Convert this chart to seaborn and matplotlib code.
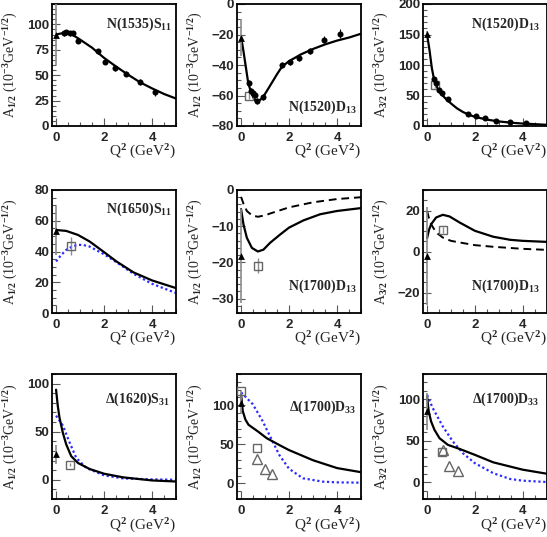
import matplotlib
matplotlib.use("Agg")
import matplotlib.pyplot as plt
import seaborn as sns
from matplotlib.ticker import MultipleLocator

# ==============================================================================
# data: helicity amplitudes vs Q^2
# ==============================================================================

# N(1535)S11 A1/2
p1_q2 = [0.32, 0.43, 0.57, 0.69, 0.92, 1.74, 2.06, 2.46, 2.92, 3.49, 4.14]
p1_a = [91, 92, 91, 91, 84, 73.5, 63, 57, 51.5, 43, 33]
p1_err = [2, 2, 2, 2, 2, 2.5, 2.5, 2.5, 2.5, 3, 3]
p1_pdg = [90, 30]
p1_cx = [0, 0.2, 0.4, 0.6, 0.8, 1.0, 1.5, 2.0, 2.5, 3.0, 3.5, 4.0, 4.5, 5.0]
p1_cy = [90, 91, 91.5, 91, 88, 85, 77, 67, 58.5, 50.5, 43, 37, 31.5, 27]

# N(1520)D13 A1/2
p2_q2 = [0.31, 0.42, 0.49, 0.56, 0.67, 0.9, 1.71, 2.04, 2.4, 2.89, 3.44, 4.11]
p2_a = [-51.7, -57, -58.5, -59.6, -63.8, -60.8, -40, -37.9, -35.7, -31, -23.4, -19.6]
p2_err = [2, 2, 2, 2, 2, 2, 2, 2, 2, 2, 2.5, 3]
p2_pdg = [-22, 12]
p2_sq = [0.35, -60.4, 2]
p2_cx = [0, 0.1, 0.2, 0.3, 0.4, 0.5, 0.6, 0.7, 0.9, 1.2, 1.5, 1.71, 2.0, 2.5, 3.0, 3.5, 4.0, 4.5, 5.0]
p2_cy = [-21.5, -31, -41.5, -52, -57, -61, -63.5, -64, -61.5, -53.8, -46, -41, -37.5, -33, -29.5, -26.5, -24, -22, -19.5]

# N(1520)D13 A3/2
p3_q2 = [0.28, 0.36, 0.48, 0.62, 0.88, 1.7, 2.05, 2.43, 2.9, 3.48, 4.15]
p3_a = [76.4, 70, 59.6, 54, 45, 19.5, 16.8, 12.5, 7.6, 6.5, 4.9]
p3_err = [3, 3, 3, 3, 3, 2, 2, 2, 2, 2, 2]
p3_pdg = [151, 5]
p3_sq = [0.32, 66.7, 4]
p3_cx = [0, 0.1, 0.2, 0.3, 0.4, 0.5, 0.6, 0.8, 1.0, 1.25, 1.5, 1.75, 2.0, 2.5, 3.0, 3.5, 4.0, 4.5, 5.0]
p3_cy = [150, 125, 95, 75, 65, 57, 52, 44, 37, 29, 23, 18.5, 15, 10.5, 7.5, 5.5, 4, 3, 2]

# N(1650)S11 A1/2
p4_pdg = [53.4, 16]
p4_sq = [0.63, 43.7, 6]
p4_cx = [0, 0.42, 0.91, 1.4, 2.0, 2.52, 3.23, 4.0, 5.0]
p4_cy = [54, 53.4, 50.8, 46.5, 39.6, 33.5, 26.4, 21.2, 16.2]
p4_bx = [0, 0.2, 0.42, 0.7, 0.91, 1.12, 1.4, 2.0, 2.52, 3.23, 4.0, 5.0]
p4_by = [33.5, 37.5, 41, 43.5, 44.3, 44.3, 43.2, 38.2, 33, 25.5, 19, 13]

# N(1700)D13 A1/2
p5_pdg = [-18.2, 13]
p5_sq = [0.7, -20.9, 2]
p5_cx = [0, 0.1, 0.24, 0.45, 0.7, 0.93, 1.21, 1.63, 2.0, 2.6, 3.3, 4.0, 5.0]
p5_cy = [-5.3, -9.5, -13.2, -16, -17, -16.5, -14.6, -12.3, -10.4, -8.4, -6.7, -5.8, -5.0]
p5_dx = [0, 0.1, 0.24, 0.45, 0.7, 1.0, 1.21, 2.0, 3.0, 4.0, 5.0]
p5_dy = [-1.9, -3.8, -5.8, -7.0, -7.4, -7.0, -6.5, -4.8, -3.4, -2.5, -2.0]

# N(1700)D13 A3/2
p6_pdg = [-2.1, 24]
p6_sq = [0.66, 10.6, 1.5]
p6_cx = [0, 0.08, 0.17, 0.38, 0.66, 0.94, 1.37, 2.0, 2.77, 3.48, 4.0, 5.0]
p6_cy = [6.5, 10.5, 13.3, 16.6, 17.9, 17.1, 14.1, 10.1, 7.2, 5.7, 5.2, 4.7]
p6_dx = [0, 0.08, 0.17, 0.38, 0.66, 1.0, 1.37, 2.0, 2.77, 4.0, 5.0]
p6_dy = [19.8, 16.2, 13.3, 9.3, 6.8, 5.2, 4.4, 3.1, 2.3, 1.3, 0.8]

# Delta(1620)S31 A1/2
p7_pdg = [26.3, 10]
p7_sq = [0.6, 15.8, 2]
p7_cx = [0, 0.07, 0.14, 0.28, 0.42, 0.63, 0.91, 1.4, 2.0, 2.8, 4.0, 5.0]
p7_cy = [93.7, 77, 65, 49, 37, 24.6, 17.5, 11.2, 6.3, 2.5, -0.7, -1.8]
p7_bx = [0, 0.28, 0.56, 0.84, 1.26, 2.0, 2.8, 4.0, 5.0]
p7_by = [66.7, 56.5, 39, 22.8, 12.3, 4.6, 1.4, 0.4, 0]

# Delta(1700)D33 A1/2
p8_pdg = [103.5, 15]
p8_sq_x = [0.0, 0.66]
p8_sq_y = [118, 45.6]
p8_tri_x = [0.66, 0.98, 1.3]
p8_tri_y = [31.7, 18.7, 12.2]
p8_cx = [0, 0.07, 0.18, 0.31, 0.7, 1.07, 1.6, 2.0, 3.0, 4.0, 5.0]
p8_cy = [114, 92.6, 81.7, 75, 66.5, 57.8, 49, 42.6, 29.6, 19.6, 14.3]
p8_bx = [0, 0.49, 0.9, 1.18, 1.6, 2.0, 2.58, 3.41, 4.0, 5.0]
p8_by = [116.5, 101.3, 79.6, 62, 36, 18.7, 6.5, 2.2, 1.3, 0.9]

# Delta(1700)D33 A3/2
p9_pdg = [85.2, 22]
p9_sq_x = [0.63]
p9_sq_y = [36.4]
p9_tri_x = [0.66, 0.92, 1.3]
p9_tri_y = [39.2, 20, 13.2]
p9_cx = [0, 0.07, 0.17, 0.31, 0.52, 0.87, 1.37, 2.0, 2.77, 4.0, 5.0]
p9_cy = [103, 85, 73, 63, 53, 45, 40, 33, 24, 15.2, 10.4]
p9_bx = [0, 0.24, 0.66, 1.08, 1.5, 2.0, 2.77, 3.48, 4.0, 5.0]
p9_by = [105, 89, 67, 49, 35, 23, 11, 4, 2, 0.4]

titles = [r"N(1535)S$_{\mathbf{11}}$", r"N(1520)D$_{\mathbf{13}}$", r"N(1520)D$_{\mathbf{13}}$",
          r"N(1650)S$_{\mathbf{11}}$", r"N(1700)D$_{\mathbf{13}}$", r"N(1700)D$_{\mathbf{13}}$",
          r"Δ(1620)S$_{\mathbf{31}}$", r"Δ(1700)D$_{\mathbf{33}}$", r"Δ(1700)D$_{\mathbf{33}}$"]
helicity = ["1/2", "1/2", "3/2", "1/2", "1/2", "3/2", "1/2", "1/2", "3/2"]
ylims = [(0, 120), (-80, 0), (0, 200), (0, 80), (-34, 0), (-30, 30), (-20, 110), (-20, 140), (-20, 130)]
ymajor = [25, 20, 50, 20, 10, 20, 50, 50, 50]
yminor = [5, 5, 10, 5, 2, 5, 10, 10, 10]
title_pos = [(0.97, 0.83), (0.965, 0.155), (0.944, 0.83),
             (0.97, 0.84), (0.965, 0.217), (0.944, 0.217),
             (0.95, 0.80), (0.96, 0.73), (0.944, 0.80)]

# ==============================================================================
# style
# ==============================================================================
sns.set_theme(style="white")
plt.rcParams["font.family"] = ["Liberation Sans", "DejaVu Sans"]
plt.rcParams["font.weight"] = "bold"
plt.rcParams["mathtext.fontset"] = "custom"
plt.rcParams["mathtext.rm"] = "Liberation Serif"
plt.rcParams["mathtext.it"] = "Liberation Serif:italic"
plt.rcParams["mathtext.bf"] = "Liberation Serif:bold"

SERIF = ["Liberation Serif", "DejaVu Serif"]
GRAY = "0.55"
BLUE = "#2a2aff"

W, H = 547, 537
fig = plt.figure(figsize=(W / 100, H / 100), dpi=100)

col_left = [52, 237, 423]
col_w = [124, 124, 123.5]
row_top = [4, 190, 374]
row_h = [122, 123, 125]

axes = []
for r in range(3):
    for c in range(3):
        rect = [col_left[c] / W, 1 - (row_top[r] + row_h[r]) / H, col_w[c] / W, row_h[r] / H]
        axes.append(fig.add_axes(rect))


def solid(ax, x, y):
    sns.lineplot(x=x, y=y, ax=ax, color="black", lw=1.6, sort=False, estimator=None)


def dashed(ax, x, y):
    sns.lineplot(x=x, y=y, ax=ax, color="black", lw=1.4, linestyle=(0, (4, 2.5)), sort=False, estimator=None)


def dotted(ax, x, y):
    sns.lineplot(x=x, y=y, ax=ax, color=BLUE, lw=1.6, linestyle=(0, (1, 1.2)), sort=False, estimator=None)


def circles(ax, x, y, err):
    ax.errorbar(x, y, yerr=err, fmt="none", ecolor="black", elinewidth=0.8, zorder=3)
    sns.scatterplot(x=x, y=y, ax=ax, marker="o", s=19, color="black", edgecolor="black", linewidth=0, zorder=4)


def pdg(ax, val):
    ax.errorbar([0], [val[0]], yerr=[val[1]], fmt="none", ecolor=GRAY, elinewidth=1.2, zorder=3)
    sns.scatterplot(x=[0], y=[val[0]], ax=ax, marker="^", s=24, color="black", linewidth=0, zorder=5)


def square(ax, x, y, err=None):
    if err is not None:
        ax.errorbar(x, y, yerr=err, fmt="none", ecolor=GRAY, elinewidth=1.0, zorder=3)
    ax.plot(x, y, "s", ms=6, mfc="none", mec="0.4", mew=1.0, zorder=4)


def open_tri(ax, x, y):
    ax.plot(x, y, "^", ms=6.5, mfc="none", mec="0.4", mew=1.0, zorder=4)


# panel contents
a = axes
solid(a[0], p1_cx, p1_cy); pdg(a[0], p1_pdg); circles(a[0], p1_q2, p1_a, p1_err)
solid(a[1], p2_cx, p2_cy); pdg(a[1], p2_pdg); square(a[1], [p2_sq[0]], [p2_sq[1]], [p2_sq[2]])
circles(a[1], p2_q2, p2_a, p2_err)
solid(a[2], p3_cx, p3_cy); pdg(a[2], p3_pdg); square(a[2], [p3_sq[0]], [p3_sq[1]], [p3_sq[2]])
circles(a[2], p3_q2, p3_a, p3_err)
dotted(a[3], p4_bx, p4_by); solid(a[3], p4_cx, p4_cy); pdg(a[3], p4_pdg)
square(a[3], [p4_sq[0]], [p4_sq[1]], [p4_sq[2]])
dashed(a[4], p5_dx, p5_dy); solid(a[4], p5_cx, p5_cy); pdg(a[4], p5_pdg)
square(a[4], [p5_sq[0]], [p5_sq[1]], [p5_sq[2]])
dashed(a[5], p6_dx, p6_dy); solid(a[5], p6_cx, p6_cy); pdg(a[5], p6_pdg)
square(a[5], [p6_sq[0]], [p6_sq[1]], [p6_sq[2]])
dotted(a[6], p7_bx, p7_by); solid(a[6], p7_cx, p7_cy); pdg(a[6], p7_pdg)
square(a[6], [p7_sq[0]], [p7_sq[1]], [p7_sq[2]])
dotted(a[7], p8_bx, p8_by); solid(a[7], p8_cx, p8_cy); pdg(a[7], p8_pdg)
square(a[7], p8_sq_x, p8_sq_y); open_tri(a[7], p8_tri_x, p8_tri_y)
dotted(a[8], p9_bx, p9_by); solid(a[8], p9_cx, p9_cy); pdg(a[8], p9_pdg)
square(a[8], p9_sq_x, p9_sq_y); open_tri(a[8], p9_tri_x, p9_tri_y)

# frames, ticks, labels
for i, ax in enumerate(axes):
    ax.set_xlim(-0.17, 5.0)
    ax.set_ylim(*ylims[i])
    ax.xaxis.set_major_locator(MultipleLocator(2))
    ax.xaxis.set_minor_locator(MultipleLocator(0.5))
    ax.yaxis.set_major_locator(MultipleLocator(ymajor[i]))
    ax.yaxis.set_minor_locator(MultipleLocator(yminor[i]))
    ax.tick_params(which="both", direction="in", left=True, bottom=True, top=False, right=False,
                   color="0.35", width=0.8)
    ax.tick_params(which="major", length=6, labelsize=9.5, pad=2)
    ax.tick_params(which="minor", length=3)
    ax.tick_params(axis="x", which="major", pad=4)
    for sp in ax.spines.values():
        sp.set_color("black")
        sp.set_linewidth(1.3)
        sp.set_visible(True)
    ax.set_facecolor("white")
    ax.set_ylabel(r"A$_{%s}$ (10$^{-3}$GeV$^{-1/2}$)" % helicity[i], fontsize=10,
                  fontfamily=SERIF, fontweight="normal")
    ax.yaxis.set_label_coords(-0.262, 0.5)
    ax.set_xlabel(r"Q$^{2}$ (GeV$^{2}$)", fontsize=11, fontfamily=SERIF, fontweight="normal", ha="right")
    ax.xaxis.set_label_coords(1.0, -0.14)
    tx, ty = title_pos[i]
    ax.text(tx, ty, titles[i], transform=ax.transAxes, ha="right", va="center",
            fontsize=10, fontfamily=SERIF, fontweight="bold")

fig.savefig("out.png", dpi=100)
